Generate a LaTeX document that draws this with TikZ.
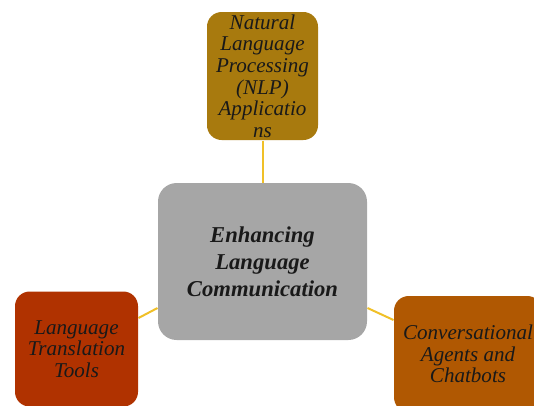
\documentclass[tikz,border=0pt]{standalone}
\usepackage{fontspec}
\setmainfont{Liberation Serif}
\definecolor{nlpgold}{RGB}{168,122,14}
\definecolor{centergray}{RGB}{166,166,166}
\definecolor{transred}{RGB}{176,50,0}
\definecolor{chatbrown}{RGB}{176,88,2}
\definecolor{linkyellow}{RGB}{240,192,40}
\tikzset{every picture/.style={line width=0.75pt}}
\tikzset{
  topicbox/.style={rounded corners=11pt, inner sep=1pt, align=center,
    font=\fontsize{15.8}{16.2}\selectfont\itshape, text=black!90},
  hubbox/.style={rounded corners=14pt, fill=centergray, inner sep=2pt, align=center,
    minimum width=156.75pt, minimum height=117.75pt,
    font=\fontsize{17}{20.3}\selectfont\bfseries\itshape, text=black!90},
  link/.style={draw=linkyellow, line width=1.5pt}
}
\begin{document}
\begin{tikzpicture}[x=0.75pt,y=0.75pt,yscale=-1,xscale=1]
\clip (0,0) rectangle (534,405);

% Centre box
\node [hubbox] (hub) at (262.5,261.5) {Enhancing\\Language\\Communication};

% Topic boxes
\node [topicbox, fill=nlpgold, minimum width=83.25pt, minimum height=96pt] (nlp) at (262.5,76)
  {Natural\\Language\\Processing\\(NLP)\\Applicatio\\ns};
\node [topicbox, fill=transred, minimum width=92.25pt, minimum height=86.25pt] (trans) at (76.5,349)
  {Language\\Translation\\Tools};
\node [topicbox, fill=chatbrown, minimum width=111pt, minimum height=87pt] (chat) at (468,354)
  {Conversational\\Agents and\\Chatbots};

% Links
\draw [link] (nlp.south) -- (hub.north);
\draw [link] (trans.east |- 0,318) -- (hub.west |- 0,308);
\draw [link] (hub.east |- 0,308) -- (chat.west |- 0,320);

\end{tikzpicture}
\end{document}
